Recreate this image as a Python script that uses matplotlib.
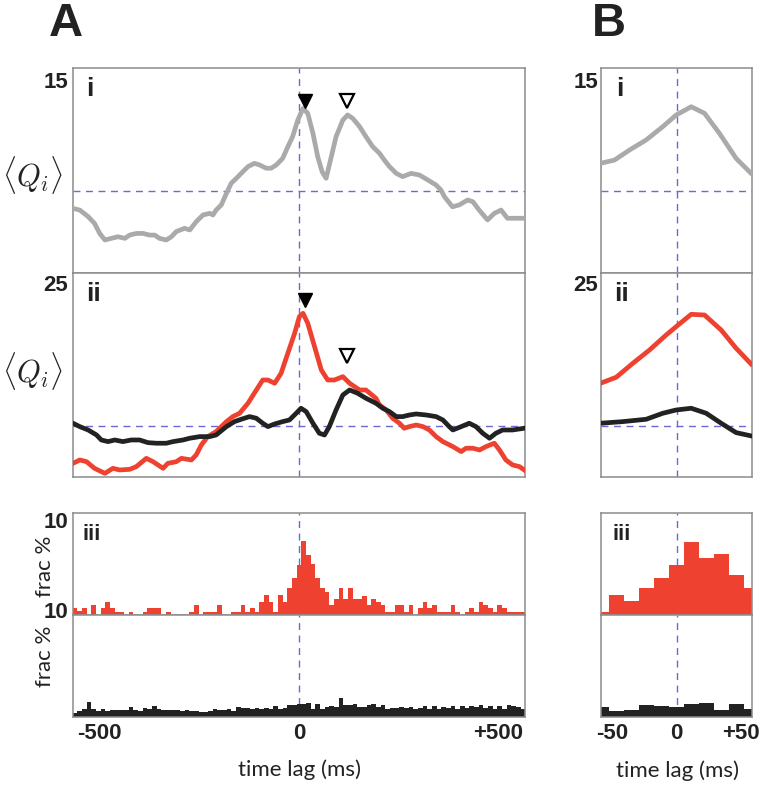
import numpy as np
import matplotlib
matplotlib.use("Agg")
import matplotlib.pyplot as plt

plt.rcParams['mathtext.fontset'] = 'cm'

# ---- data ----
# panel A i : grey curve
lag_Ai = [-567, -550, -529, -513, -500, -487, -471, -454, -437, -425, -408, -391, -375, -362, -350,
          -333, -320, -308, -287, -274, -258, -241, -224, -216, -208, -195, -182, -170, -157, -145,
          -128, -112, -99, -82, -70, -57, -41, -28, -16, -3, 10, 22, 35, 47, 58, 68, 81, 93, 110, 122,
          135, 152, 168, 185, 202, 214, 227, 244, 260, 281, 302, 323, 344, 356, 365, 385, 402, 423,
          436, 452, 473, 490, 507, 523, 536, 565]
q_Ai = [8.15, 8.07, 7.75, 7.42, 6.93, 6.61, 6.69, 6.77, 6.69, 6.85, 6.93, 6.93, 6.85, 6.85, 6.69,
        6.61, 6.77, 7.02, 7.18, 7.10, 7.50, 7.83, 7.91, 7.83, 8.07, 8.32, 8.89, 9.38, 9.62, 9.86,
        10.19, 10.35, 10.27, 10.11, 10.11, 10.27, 10.59, 11.16, 11.65, 12.46, 13.03, 12.79, 11.81,
        10.67, 9.94, 9.62, 10.67, 11.65, 12.46, 12.71, 12.54, 12.14, 11.65, 11.16, 10.84, 10.51,
        10.19, 9.86, 9.70, 9.86, 9.78, 9.54, 9.29, 9.05, 8.72, 8.23, 8.32, 8.56, 8.48, 8.07, 7.59,
        7.91, 8.07, 7.67, 7.67, 7.67]

# panel A ii : red and black curves
lag_Aii_red = [-567, -550, -533, -513, -487, -467, -450, -425, -408, -383, -366, -341, -329, -308,
               -295, -270, -258, -245, -229, -208, -182, -166, -149, -128, -107, -91, -78, -61, -45,
               -28, -11, 1, 10, 22, 39, 56, 72, 89, 110, 127, 152, 168, 193, 202, 219, 235, 252, 264,
               277, 294, 311, 327, 344, 361, 386, 407, 419, 436, 453, 469, 490, 503, 519, 536, 553, 565]
q_Aii_red = [6.34, 6.67, 6.50, 5.85, 5.36, 5.85, 5.69, 5.75, 6.02, 6.83, 6.50, 5.85, 6.34, 6.50,
             6.83, 6.67, 7.16, 8.14, 8.96, 9.45, 10.43, 10.92, 11.25, 12.23, 13.53, 14.51, 14.51,
             14.19, 15.17, 17.13, 19.09, 20.72, 21.05, 20.07, 17.78, 15.49, 14.51, 14.51, 14.84,
             14.19, 13.53, 13.53, 12.72, 12.06, 11.57, 10.76, 10.27, 9.78, 9.94, 10.10, 9.94, 9.61,
             8.96, 8.47, 7.98, 7.49, 7.82, 7.82, 7.65, 7.98, 8.31, 7.65, 6.67, 6.18, 6.02, 5.69]
lag_Aii_blk = [-567, -550, -529, -508, -496, -479, -462, -442, -421, -400, -379, -358, -333, -316,
               -291, -274, -249, -224, -208, -182, -162, -145, -124, -107, -91, -78, -61, -41, -24,
               -7, 5, 18, 35, 51, 64, 76, 93, 110, 127, 147, 168, 193, 210, 227, 244, 260, 277, 294,
               319, 344, 361, 377, 386, 407, 427, 444, 461, 478, 494, 511, 536, 565]
q_Aii_blk = [10.27, 9.94, 9.61, 9.12, 8.63, 8.47, 8.63, 8.47, 8.63, 8.63, 8.37, 8.31, 8.31, 8.47,
             8.63, 8.80, 8.96, 8.96, 9.12, 9.94, 10.43, 10.66, 10.92, 10.76, 10.27, 9.94, 10.20,
             10.43, 10.59, 11.25, 11.74, 11.41, 10.27, 9.29, 9.12, 9.94, 11.57, 13.04, 13.53, 13.21,
             12.72, 12.23, 11.74, 11.41, 10.92, 10.92, 11.08, 11.18, 11.08, 10.92, 10.59, 9.94, 9.61,
             9.94, 10.27, 9.94, 9.29, 8.80, 9.29, 9.61, 9.61, 9.78]

# panel A iii : histograms (frac %), bins of 11.7 ms centred on 0
BIN_W = 11.7
hist_A_centers = np.arange(-48, 49) * BIN_W
frac_A_red = [0.65, 0.4, 0.65, 0, 1.0, 0, 0.65, 1.3, 0.65, 0.33,
              0.33, 0, 0.33, 0, 0, 0.33, 0.65, 0.65, 0.65, 0,
              0.33, 0, 0, 0, 0, 0.33, 1.0, 0, 0.33, 0.33,
              0.33, 1.0, 0, 0, 0.33, 0.33, 1.0, 0.33, 0.65, 0.33,
              1.3, 2.0, 1.3, 0.33, 2.0, 1.3, 2.6, 3.6, 4.9, 7.3,
              5.9, 5.0, 3.6, 2.6, 2.3, 1.0, 1.6, 2.6, 1.6, 2.6,
              1.6, 1.6, 1.9, 1.0, 1.6, 1.3, 1.0, 0.33, 0.33, 1.0,
              1.0, 0.33, 1.0, 0, 0.65, 1.3, 0.65, 1.0, 0.33, 0.33,
              0.33, 1.0, 0.33, 0, 0.33, 0.65, 0.33, 1.3, 1.0, 0.65,
              0.33, 1.0, 0.65, 0.33, 0.33, 0.33, 0.33]
frac_A_blk = [0.4, 0.6, 0.8, 1.5, 0.8, 0.6, 0.8, 0.6, 0.65, 0.65,
              0.7, 0.7, 1.0, 0.7, 0.6, 0.9, 0.8, 1.1, 0.8, 0.7,
              0.7, 0.65, 0.7, 0.6, 0.7, 0.6, 0.6, 0.5, 0.5, 0.6,
              0.75, 0.65, 0.65, 0.75, 0.6, 1.0, 0.9, 0.9, 0.8, 0.9,
              0.8, 0.9, 0.8, 1.05, 0.8, 0.9, 1.15, 1.15, 1.25, 1.3,
              1.35, 0.8, 1.25, 0.8, 1.0, 1.05, 1.0, 1.85, 1.15, 1.15,
              1.25, 1.0, 1.0, 1.15, 1.25, 1.0, 1.15, 0.8, 0.9, 0.9,
              1.0, 0.9, 1.0, 0.8, 0.9, 1.05, 0.8, 1.05, 0.8, 1.0,
              0.9, 1.05, 0.8, 1.05, 0.9, 1.05, 1.0, 1.15, 0.9, 1.05,
              0.8, 1.05, 0.8, 1.15, 1.05, 1.0, 0.8]

# panel B (zoom around 0)
lag_Bi = [-59.4, -48.4, -36.7, -23.7, -10.7, -0.2, 11.5, 21.9, 33.6, 46.6, 57.8]
q_Bi = [10.35, 10.51, 11.0, 11.49, 12.14, 12.71, 13.11, 12.79, 11.81, 10.59, 9.89]
lag_Bii = [-59.4, -47.1, -34.1, -21.1, -8.1, -0.3, 11.5, 21.9, 34.9, 46.6, 58.3]
q_Bii_red = [14.19, 14.78, 16.15, 17.45, 18.92, 19.74, 20.95, 20.88, 19.41, 17.62, 16.08]
lag_Bii_blk = [-59.4, -41.9, -23.7, -10.7, -0.3, 11.5, 23.2, 34.9, 46.6, 58.3]
q_Bii_blk = [10.27, 10.43, 10.66, 11.25, 11.57, 11.74, 11.25, 10.27, 9.35, 9.03]
hist_B_centers = np.arange(-5, 6) * BIN_W
frac_B_red = [0.33, 1.96, 1.37, 2.61, 3.59, 4.9, 7.19, 5.6, 5.95, 3.92, 2.61]
frac_B_blk = [0.98, 0.59, 0.72, 1.18, 1.08, 0.98, 1.31, 1.37, 0.72, 1.31, 0.82]

# peak markers (filled = first peak, open = second peak)
peak1_lag, peak2_lag = 14, 121

CHANCE_I = 9.0
CHANCE_II = 10.0

# ---- styling ----
GREY = '#aaaaaa'
RED = '#ee4130'
BLACK = '#222222'
DASH = '#6a6ad2'
SPINE = '#8c8c8c'
NUMFONT = 'Liberation Sans'
TXTFONT = 'Lato'

W, H = 761, 788
fig = plt.figure(figsize=(W / 100, H / 100), dpi=100)


def box(x0, x1, y0, y1):
    return [x0 / W, 1 - y1 / H, (x1 - x0) / W, (y1 - y0) / H]


def style(ax, xlim, ylim):
    ax.set_xlim(*xlim)
    ax.set_ylim(*ylim)
    ax.set_xticks([])
    ax.set_yticks([])
    for s in ax.spines.values():
        s.set_color(SPINE)
        s.set_linewidth(1.1)


def ftext(x, y, s, **kw):
    fig.text(x / W, 1 - y / H, s, **kw)


A_X = (73, 525)
B_X = (601, 752)
XL_A = (-567, 567)
XL_B = (-59, 59)
LW = 3.4
dash_kw = dict(color=DASH, lw=1.0, ls=(0, (5, 4)), zorder=1)

for X, XL, cols in [(A_X, XL_A, 'A'), (B_X, XL_B, 'B')]:
    ax1 = fig.add_axes(box(X[0], X[1], 68, 273))
    ax2 = fig.add_axes(box(X[0], X[1], 273, 477))
    ax3 = fig.add_axes(box(X[0], X[1], 513, 615))
    ax4 = fig.add_axes(box(X[0], X[1], 615, 717))
    style(ax1, XL, (5, 15))
    style(ax2, XL, (5, 25))
    style(ax3, XL, (0, 10))
    style(ax4, XL, (0, 10))

    for ax in (ax1, ax2, ax3, ax4):
        ax.axvline(0, **dash_kw)
    ax1.axhline(CHANCE_I, **dash_kw)
    ax2.axhline(CHANCE_II, **dash_kw)

    if cols == 'A':
        ax1.plot(lag_Ai, q_Ai, color=GREY, lw=LW, solid_joinstyle='round', zorder=3)
        ax2.plot(lag_Aii_red, q_Aii_red, color=RED, lw=LW, solid_joinstyle='round', zorder=3)
        ax2.plot(lag_Aii_blk, q_Aii_blk, color=BLACK, lw=LW, solid_joinstyle='round', zorder=3)
        ax3.bar(hist_A_centers, frac_A_red, width=BIN_W, color=RED, lw=0, zorder=2)
        ax4.bar(hist_A_centers, frac_A_blk, width=BIN_W, color=BLACK, lw=0, zorder=2)
        ax1.plot(peak1_lag, 13.4, marker='v', ms=10, color='black', zorder=4)
        ax1.plot(peak2_lag, 13.4, marker='v', ms=10, mfc='white', mec='black', mew=1.6, zorder=4)
        ax2.plot(peak1_lag, 22.4, marker='v', ms=10, color='black', zorder=4)
        ax2.plot(peak2_lag, 16.9, marker='v', ms=10, mfc='white', mec='black', mew=1.6, zorder=4)
        ax4.set_xticks([-500, 0, 500])
        ax4.set_xticklabels(['-500', '0', '+500'])
    else:
        ax1.plot(lag_Bi, q_Bi, color=GREY, lw=LW, solid_joinstyle='round', zorder=3)
        ax2.plot(lag_Bii, q_Bii_red, color=RED, lw=LW, solid_joinstyle='round', zorder=3)
        ax2.plot(lag_Bii_blk, q_Bii_blk, color=BLACK, lw=LW, solid_joinstyle='round', zorder=3)
        ax3.bar(hist_B_centers, frac_B_red, width=BIN_W, color=RED, lw=0, zorder=2)
        ax4.bar(hist_B_centers, frac_B_blk, width=BIN_W, color=BLACK, lw=0, zorder=2)
        ax4.set_xticks([-50, 0, 50])
        ax4.set_xticklabels(['-50', '0', '+50'])
    ax4.tick_params(axis='x', length=0, pad=4, labelsize=16)
    for t in ax4.get_xticklabels():
        t.set_fontfamily(NUMFONT)
        t.set_fontweight('bold')
        t.set_color('#222222')

# ---- text decorations ----
num = dict(fontfamily=NUMFONT, fontweight='bold', fontsize=16, color='#222222', ha='right', va='top')
ftext(68, 72, '15', **num)
ftext(68, 275, '25', **num)
ftext(68, 512, '10', **num)
ftext(68, 602, '10', **num)
ftext(598, 72, '15', **num)
ftext(598, 275, '25', **num)

big = dict(fontfamily=NUMFONT, fontweight='bold', fontsize=34, color='#222222', ha='center', va='center')
ftext(66, 24, 'A', **big)
ftext(609, 24, 'B', **big)

rom = dict(fontfamily=NUMFONT, fontweight='bold', color='#222222', ha='center', va='center')
ftext(90, 89, 'i', fontsize=19, **rom)
ftext(93, 294, 'ii', fontsize=19, **rom)
ftext(92, 534, 'iii', fontsize=16, **rom)
ftext(620, 89, 'i', fontsize=19, **rom)
ftext(622, 294, 'ii', fontsize=19, **rom)
ftext(622, 534, 'iii', fontsize=16, **rom)

ftext(33, 175, r'$\langle Q_i\rangle$', fontsize=22, ha='center', va='center', color='#222222')
ftext(33, 371, r'$\langle Q_i\rangle$', fontsize=22, ha='center', va='center', color='#222222')

lab = dict(fontfamily=TXTFONT, fontsize=16, color='#222222', ha='center', va='center')
ftext(45, 566, 'frac %', rotation=90, **lab)
ftext(45, 656, 'frac %', rotation=90, **lab)
ftext(300, 770, 'time lag (ms)', **lab)
ftext(677, 771, 'time lag (ms)', **lab)

fig.savefig('out.png', dpi=100)
